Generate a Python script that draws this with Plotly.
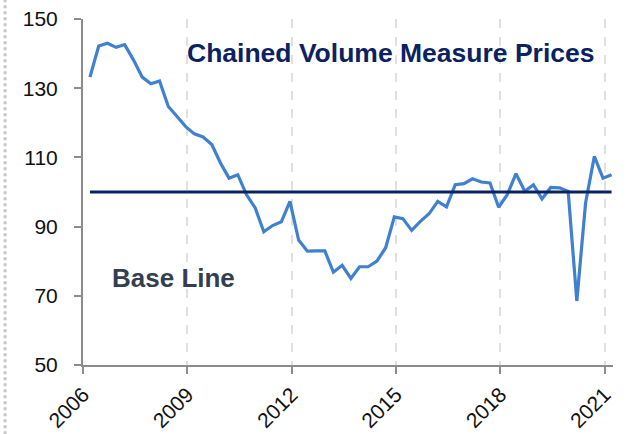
import plotly.graph_objects as go
import pandas as pd

# Quarterly values, 2006 Q1 .. 2021 Q1 (dates placed mid-quarter)
quarters = pd.date_range("2006-02-15", periods=61, freq="3MS") + pd.Timedelta(days=14)
dates = [d.strftime("%Y-%m-%d") for d in quarters]

price_values = [
    133.2, 142.2, 143.0, 141.8, 142.6, 138.2, 133.2, 131.3, 132.1, 124.7,
    121.8, 118.9, 116.8, 115.9, 113.7, 108.4, 104.0, 105.0, 99.2, 95.4,
    88.5, 90.3, 91.4, 97.3, 86.1, 82.9, 83.0, 83.0, 76.8, 78.8,
    75.0, 78.4, 78.4, 80.0, 83.9, 92.8, 92.3, 88.9, 91.5, 93.7,
    97.3, 95.7, 102.1, 102.4, 103.8, 102.9, 102.6, 95.6, 99.2, 105.3,
    100.2, 102.1, 98.0, 101.3, 101.2, 100.2, 68.5, 96.8, 110.3, 104.0,
    105.0,
]
base_values = [100] * len(price_values)

y_ticks = [50, 70, 90, 110, 130, 150]
x_tick_years = ["2006", "2009", "2012", "2015", "2018", "2021"]
x_tick_vals = [f"{y}-01-01" for y in x_tick_years]

title_text = "Chained Volume Measure Prices"
base_text = "Base Line"

fig = go.Figure()
fig.add_trace(go.Scatter(x=dates, y=price_values, mode="lines",
                         line=dict(color="#4080D0", width=3.2), showlegend=False))
fig.add_trace(go.Scatter(x=dates, y=base_values, mode="lines",
                         line=dict(color="#0B2260", width=3), showlegend=False))

axis_font = dict(family="Arial, Liberation Sans, sans-serif", size=21, color="#111111")

fig.update_xaxes(
    type="date", automargin=False,
    range=["2006-01-01", "2021-03-30"],
    tickvals=x_tick_vals, ticktext=x_tick_years,
    tickangle=-45, tickfont=axis_font,
    showline=True, linecolor="#8C8C8C", linewidth=2,
    ticks="outside", ticklen=7, tickcolor="#8C8C8C", tickwidth=1.5,
    showgrid=True, gridcolor="#E0E0E0", griddash="dash", gridwidth=2,
    zeroline=False,
)
fig.update_yaxes(
    automargin=False,
    range=[50, 150],
    tickvals=y_ticks, tickfont=axis_font,
    showline=True, linecolor="#8C8C8C", linewidth=2,
    ticks="outside", ticklen=7, tickcolor="#8C8C8C", tickwidth=1.5,
    ticklabelstandoff=12,
    showgrid=False, zeroline=False,
)

fig.add_annotation(text=title_text, xref="paper", yref="paper",
                   x=0.580, y=0.902, showarrow=False,
                   xanchor="center", yanchor="middle",
                   font=dict(family="Arial, Liberation Sans, sans-serif", size=26.5,
                             color="#0B2260", weight="bold"))
fig.add_annotation(text=base_text, xref="paper", yref="paper",
                   x=0.170, y=0.251, showarrow=False,
                   xanchor="center", yanchor="middle",
                   font=dict(family="Arial, Liberation Sans, sans-serif", size=26,
                             color="#333F50", weight="bold"))

# dotted slide border on the far left
fig.add_shape(type="line", xref="paper", yref="paper",
              x0=-0.147, x1=-0.147, y0=-0.2, y1=1.06,
              line=dict(color="#C8C8C8", width=3, dash="dot"))

fig.update_layout(
    width=626, height=434,
    margin=dict(l=83, r=13, t=19, b=69),
    paper_bgcolor="white", plot_bgcolor="white",
)

fig.write_html("out.html", config={"displayModeBar": False},
               post_script="document.body.style.margin='0';document.body.style.overflow='hidden';")
